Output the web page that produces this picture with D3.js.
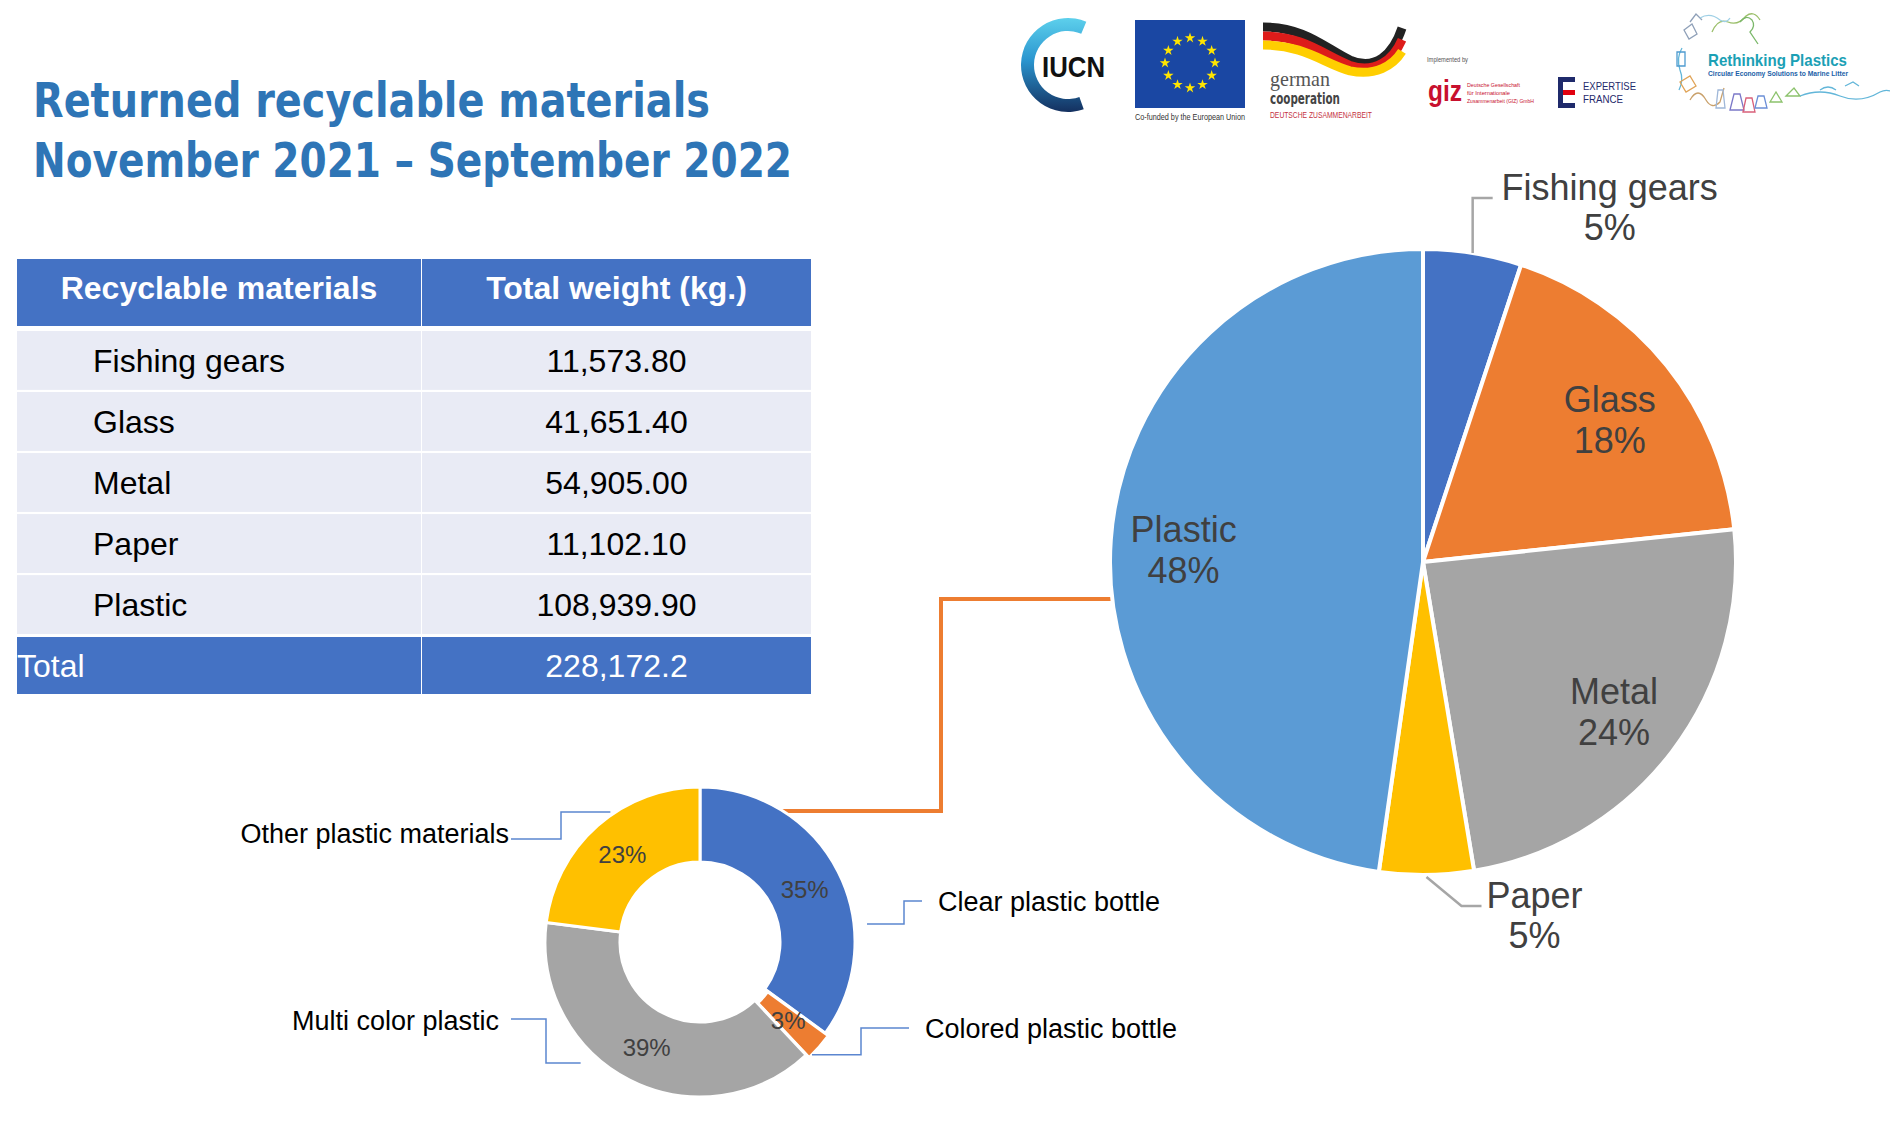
<!DOCTYPE html>
<html>
<head>
<meta charset="utf-8">
<script src="https://cdn.jsdelivr.net/npm/d3@7"></script>
<style>
  body { margin: 0; background: #fff; }
  svg { display: block; }
</style>
</head>
<body>
<svg id="chart" width="1890" height="1138"></svg>
<script>
// ---- data ----
var materials = ["Fishing gears", "Glass", "Metal", "Paper", "Plastic"];
var weights = [11573.80, 41651.40, 54905.00, 11102.10, 108939.90];
var totalWeight = 228172.2;
var tableHeaders = ["Recyclable materials", "Total weight (kg.)"];
var plasticTypes = ["Clear plastic bottle", "Colored plastic bottle", "Multi color plastic", "Other plastic materials"];
var plasticShares = [35, 3, 39, 23];
var titleLines = ["Returned recyclable materials", "November 2021 \u2013 September 2022"];

var pieColors = ["#4472C4", "#ED7D31", "#A5A5A5", "#FFC000", "#5B9BD5"];
var donutColors = ["#4472C4", "#ED7D31", "#A5A5A5", "#FFC000"];

var svg = d3.select("#chart");
svg.append("rect").attr("width", 1890).attr("height", 1138).attr("fill", "#fff");

// ---- title ----
var titleWidths = [677, 759];
svg.selectAll(".title")
    .data(titleLines)
    .enter().append("text")
    .attr("class", "title")
    .attr("x", 33)
    .attr("y", function (d, i) { return 117 + i * 60; })
    .attr("textLength", function (d, i) { return titleWidths[i]; })
    .attr("lengthAdjust", "spacingAndGlyphs")
    .style("font-family", "'DejaVu Sans Condensed', 'DejaVu Sans', sans-serif")
    .style("font-stretch", "condensed")
    .style("font-weight", "bold")
    .style("font-size", "48px")
    .style("fill", "#2E75B6")
    .text(function (d) { return d; });

// ---- table ----
var fmt = d3.format(",.2f");
var colX = d3.scaleOrdinal().domain([0, 1]).range([17, 422]);
var colW = [404, 389];
var rowY = d3.scaleBand().domain(materials).range([331, 634]).paddingInner(0.035);
var tFont = "'Liberation Sans', Arial, sans-serif";

var table = svg.append("g");
// header
table.selectAll(".hcell")
    .data(tableHeaders)
    .enter().append("rect")
    .attr("x", function (d, i) { return colX(i); })
    .attr("y", 259)
    .attr("width", function (d, i) { return colW[i]; })
    .attr("height", 67)
    .attr("fill", "#4472C4");
table.selectAll(".htext")
    .data(tableHeaders)
    .enter().append("text")
    .attr("x", function (d, i) { return colX(i) + colW[i] / 2; })
    .attr("y", 299)
    .attr("text-anchor", "middle")
    .style("font-family", tFont)
    .style("font-weight", "bold")
    .style("font-size", "32px")
    .style("fill", "#fff")
    .text(function (d) { return d; });

// body rows
var rows = table.selectAll(".row")
    .data(materials)
    .enter().append("g")
    .attr("class", "row")
    .attr("transform", function (d) { return "translate(0," + rowY(d) + ")"; });
[0, 1].forEach(function (c) {
    rows.append("rect")
        .attr("x", colX(c))
        .attr("width", colW[c])
        .attr("height", rowY.bandwidth())
        .attr("fill", "#E9EBF5");
});
rows.append("text")
    .attr("x", 93)
    .attr("y", rowY.bandwidth() / 2 + 11.5)
    .style("font-family", tFont)
    .style("font-size", "32px")
    .style("fill", "#000")
    .text(function (d) { return d; });
rows.append("text")
    .attr("x", colX(1) + colW[1] / 2)
    .attr("y", rowY.bandwidth() / 2 + 11.5)
    .attr("text-anchor", "middle")
    .style("font-family", tFont)
    .style("font-size", "32px")
    .style("fill", "#000")
    .text(function (d, i) { return fmt(weights[i]); });

// total row
[0, 1].forEach(function (c) {
    table.append("rect")
        .attr("x", colX(c)).attr("y", 637)
        .attr("width", colW[c]).attr("height", 57)
        .attr("fill", "#4472C4");
});
table.append("text")
    .attr("x", 17).attr("y", 677)
    .style("font-family", tFont).style("font-size", "32px").style("fill", "#fff")
    .text("Total");
table.append("text")
    .attr("x", colX(1) + colW[1] / 2).attr("y", 677)
    .attr("text-anchor", "middle")
    .style("font-family", tFont).style("font-size", "32px").style("fill", "#fff")
    .text(d3.format(",.1f")(totalWeight));

// ---- big pie ----
var pcx = 1423, pcy = 562, pR = 313;
var pie = d3.pie().sort(null).value(function (d) { return d; });
var pieArcs = pie(weights);
var arc = d3.arc().innerRadius(0).outerRadius(pR);
var labelArc = d3.arc().innerRadius(240).outerRadius(240);
var pct = d3.format(".0%");

// orange connector between the plastic slice and the donut (drawn first, under the slices)
var dcx = 700, dcy = 942, dR = 155, dr = 80;
var connY1 = 599, connY2 = 811, connX = 941;
var pEdgeX = pcx - Math.sqrt(pR * pR - (connY1 - pcy) * (connY1 - pcy));
var dEdgeX = dcx + Math.sqrt(dR * dR - (connY2 - dcy) * (connY2 - dcy));
svg.append("path")
    .attr("d", d3.line()([[pEdgeX + 4, connY1], [connX, connY1], [connX, connY2], [dEdgeX - 4, connY2]]))
    .attr("fill", "none")
    .attr("stroke", "#ED7D31")
    .attr("stroke-width", 4);

var pieG = svg.append("g").attr("transform", "translate(" + pcx + "," + pcy + ")");
pieG.selectAll(".slice")
    .data(pieArcs)
    .enter().append("path")
    .attr("d", arc)
    .attr("fill", function (d, i) { return pieColors[i]; })
    .attr("stroke", "#fff")
    .attr("stroke-width", 4)
    .attr("stroke-linejoin", "round");

var labelFont = "'Liberation Sans', Arial, sans-serif";
var insideIdx = [1, 2, 4];
var insideShift = { 1: 8, 2: 4, 4: 4 };
insideIdx.forEach(function (i) {
    var c = labelArc.centroid(pieArcs[i]);
    var t = pieG.append("text")
        .attr("text-anchor", "middle")
        .style("font-family", labelFont).style("font-size", "36px").style("fill", "#404040");
    t.append("tspan").attr("x", c[0]).attr("y", c[1] - 7 + insideShift[i]).text(materials[i]);
    t.append("tspan").attr("x", c[0]).attr("y", c[1] + 34 + insideShift[i]).text(pct(weights[i] / totalWeight));
});

function outerPoint(a) {
    var ang = (a.startAngle + a.endAngle) / 2;
    return [pR * Math.sin(ang), -pR * Math.cos(ang)];
}
// Fishing gears: leader up, then right
var fp = outerPoint(pieArcs[0]);
var fElbow = [fp[0], 198 - pcy];
var fEnd = [fp[0] + 20, 198 - pcy];
pieG.append("path")
    .attr("d", d3.line()([fp, fElbow, fEnd]))
    .attr("fill", "none").attr("stroke", "#A6A6A6").attr("stroke-width", 2.5);
var ft = pieG.append("text").attr("text-anchor", "middle")
    .style("font-family", labelFont).style("font-size", "36px").style("fill", "#404040");
ft.append("tspan").attr("x", fEnd[0] + 117).attr("y", 200 - pcy).text(materials[0]);
ft.append("tspan").attr("x", fEnd[0] + 117).attr("y", 240 - pcy).text(pct(weights[0] / totalWeight));

// Paper: leader diagonal, then right
var pp = outerPoint(pieArcs[3]);
var pElbow = [pp[0] + 35, 906 - pcy];
var pEnd = [pp[0] + 55, 906 - pcy];
pieG.append("path")
    .attr("d", d3.line()([[pp[0], pp[1] + 2], pElbow, pEnd]))
    .attr("fill", "none").attr("stroke", "#A6A6A6").attr("stroke-width", 2.5);
var pt = pieG.append("text").attr("text-anchor", "middle")
    .style("font-family", labelFont).style("font-size", "36px").style("fill", "#404040");
pt.append("tspan").attr("x", pEnd[0] + 53).attr("y", 908 - pcy).text(materials[3]);
pt.append("tspan").attr("x", pEnd[0] + 53).attr("y", 948 - pcy).text(pct(weights[3] / totalWeight));

// ---- donut ----
var donutG = svg.append("g").attr("transform", "translate(" + dcx + "," + dcy + ")");
var donutArcs = pie(plasticShares);
var dArc = d3.arc().innerRadius(dr).outerRadius(dR);
donutG.selectAll(".dslice")
    .data(donutArcs)
    .enter().append("path")
    .attr("d", dArc)
    .attr("transform", function (d, i) {
        if (i !== 1) return null;
        var a = (d.startAngle + d.endAngle) / 2;
        return "translate(" + 4 * Math.sin(a) + "," + -4 * Math.cos(a) + ")";
    })
    .attr("fill", function (d, i) { return donutColors[i]; })
    .attr("stroke", "#fff")
    .attr("stroke-width", 3);
donutG.selectAll(".dpct")
    .data(donutArcs)
    .enter().append("text")
    .attr("x", function (d) { return dArc.centroid(d)[0]; })
    .attr("y", function (d) { return dArc.centroid(d)[1] + 9; })
    .attr("text-anchor", "middle")
    .style("font-family", labelFont).style("font-size", "24px").style("fill", "#404040")
    .text(function (d) { return d.data + "%"; });

// label layout for the donut callouts (angle/radius of the start, elbow x, text anchor)
var donutLabelLayout = [
    { angle: 1.463, r: 168, elbowX: 904, endY: 901, endX: 922, textX: 938, textY: 901, anchor: "start" },
    { angle: 2.360, r: 159, elbowX: 861, endY: 1028, endX: 909, textX: 925, textY: 1028, anchor: "start" },
    { angle: 3.920, r: 170, elbowX: 546, endY: 1019, endX: 511, textX: 499, textY: 1020, anchor: "end" },
    { angle: 5.680, r: 158, elbowX: 561, endY: 839, endX: 511, textX: 509, textY: 833, anchor: "end" }
];
donutLabelLayout.forEach(function (L, i) {
    var sx = dcx + L.r * Math.sin(L.angle), sy = dcy - L.r * Math.cos(L.angle);
    svg.append("path")
        .attr("d", d3.line()([[sx, sy], [L.elbowX, sy], [L.elbowX, L.endY], [L.endX, L.endY]]))
        .attr("fill", "none").attr("stroke", "#5B86D0").attr("stroke-width", 1.5);
    svg.append("text")
        .attr("x", L.textX)
        .attr("y", L.textY + 9.5)
        .attr("text-anchor", L.anchor)
        .style("font-family", labelFont).style("font-size", "27px").style("fill", "#000")
        .text(plasticTypes[i]);
});

// ---- logos ----
var logos = svg.append("g");
var defs = svg.append("defs");
var g1 = defs.append("linearGradient").attr("id", "iucnGrad").attr("x1", 0).attr("y1", 0).attr("x2", 0).attr("y2", 1);
g1.append("stop").attr("offset", "0%").attr("stop-color", "#5DD0EC");
g1.append("stop").attr("offset", "45%").attr("stop-color", "#2A95CF");
g1.append("stop").attr("offset", "100%").attr("stop-color", "#14305F");
logos.append("path")
    .attr("transform", "translate(1068,65)")
    .attr("d", d3.arc().innerRadius(34).outerRadius(47).startAngle(2.80).endAngle(2 * Math.PI + 0.40)())
    .attr("fill", "url(#iucnGrad)");
logos.append("text").attr("x", 1042).attr("y", 77)
    .attr("textLength", 63).attr("lengthAdjust", "spacingAndGlyphs")
    .style("font-family", tFont).style("font-weight", "bold").style("font-size", "30px").style("fill", "#111")
    .text("IUCN");

// EU flag
logos.append("rect").attr("x", 1135).attr("y", 20).attr("width", 110).attr("height", 88).attr("fill", "#1A47A3");
var star = d3.symbol().type(d3.symbolStar).size(34);
d3.range(12).forEach(function (k) {
    var a = k * Math.PI / 6;
    logos.append("path").attr("d", star())
        .attr("transform", "translate(" + (1190 + 25 * Math.sin(a)) + "," + (63 - 25 * Math.cos(a)) + ")")
        .attr("fill", "#FFE500");
});
logos.append("text").attr("x", 1135).attr("y", 120)
    .attr("textLength", 110).attr("lengthAdjust", "spacingAndGlyphs")
    .style("font-family", tFont).style("font-size", "9px").style("fill", "#333")
    .text("Co-funded by the European Union");

// German cooperation ribbon
["#222222", "#DD1C1A", "#FFCE00"].forEach(function (col, k) {
    var o = k * 9;
    logos.append("path")
        .attr("d", "M1263," + (27 + o) + " C1305," + (27 + o) + " 1325," + (48 + o * 0.9) + " 1350," + (60 + o * 0.6) +
            " C1375," + (71 + o * 0.3) + " 1393," + (55 + o * 0.6) + " 1402," + (28 + o * 1.3))
        .attr("fill", "none").attr("stroke", col).attr("stroke-width", 9);
});
logos.append("text").attr("x", 1270).attr("y", 86)
    .attr("textLength", 60).attr("lengthAdjust", "spacingAndGlyphs")
    .style("font-family", "'Liberation Serif', serif").style("font-size", "22px").style("fill", "#555")
    .text("german");
logos.append("text").attr("x", 1270).attr("y", 104)
    .attr("textLength", 70).attr("lengthAdjust", "spacingAndGlyphs")
    .style("font-family", "'DejaVu Sans', sans-serif").style("font-weight", "bold").style("font-size", "15px").style("fill", "#444")
    .text("cooperation");
logos.append("text").attr("x", 1270).attr("y", 118)
    .attr("textLength", 102).attr("lengthAdjust", "spacingAndGlyphs")
    .style("font-family", tFont).style("font-size", "9px").style("fill", "#C4323F")
    .text("DEUTSCHE ZUSAMMENARBEIT");

// giz
logos.append("text").attr("x", 1427).attr("y", 62)
    .attr("textLength", 41).attr("lengthAdjust", "spacingAndGlyphs")
    .style("font-family", tFont).style("font-size", "7px").style("fill", "#555")
    .text("Implemented by");
logos.append("text").attr("x", 1428).attr("y", 101)
    .attr("textLength", 34).attr("lengthAdjust", "spacingAndGlyphs")
    .style("font-family", tFont).style("font-weight", "bold").style("font-size", "30px").style("fill", "#C8102E")
    .text("giz");
[["Deutsche Gesellschaft", 53], ["f\u00fcr Internationale", 43], ["Zusammenarbeit (GIZ) GmbH", 67]].forEach(function (l, k) {
    logos.append("text").attr("x", 1467).attr("y", 87 + k * 8)
        .attr("textLength", l[1]).attr("lengthAdjust", "spacingAndGlyphs")
        .style("font-family", tFont).style("font-size", "6px").style("fill", "#C8102E")
        .text(l[0]);
});

// Expertise France
logos.append("rect").attr("x", 1558).attr("y", 77).attr("width", 5).attr("height", 31).attr("fill", "#1F2A6B");
logos.append("rect").attr("x", 1558).attr("y", 77).attr("width", 17).attr("height", 5).attr("fill", "#1F2A6B");
logos.append("rect").attr("x", 1563).attr("y", 90).attr("width", 12).attr("height", 5).attr("fill", "#E1000F");
logos.append("rect").attr("x", 1563).attr("y", 103).attr("width", 12).attr("height", 5).attr("fill", "#1F2A6B");
logos.append("text").attr("x", 1583).attr("y", 90)
    .attr("textLength", 53).attr("lengthAdjust", "spacingAndGlyphs")
    .style("font-family", tFont).style("font-size", "11px").style("fill", "#1F2A6B")
    .text("EXPERTISE");
logos.append("text").attr("x", 1583).attr("y", 103)
    .attr("textLength", 40).attr("lengthAdjust", "spacingAndGlyphs")
    .style("font-family", tFont).style("font-size", "11px").style("fill", "#1F2A6B")
    .text("FRANCE");

// Rethinking Plastics
var doodle = [
    ["#9BBF6A", "M1712,32 q6,-14 16,-10 q10,4 18,-6 q8,-6 14,4"],
    ["#8FA0B8", "M1684,30 l8,-6 l5,10 l-8,5 z M1690,22 l6,-8 l6,6"],
    ["#7BB86A", "M1740,22 q6,-8 12,-2 q4,6 -2,12 l8,12"],
    ["#62B6D9", "M1682,48 q-6,10 -2,22 q4,10 -1,20"],
    ["#4E9BD0", "M1677,52 l8,0 l0,14 l-8,0 z"],
    ["#E0A458", "M1680,82 l10,-6 l6,10 l-10,6 z"],
    ["#C9A06A", "M1690,100 q8,-14 16,0 q6,10 14,2 l4,-14"],
    ["#9FB7D8", "M1716,108 l2,-18 l5,0 l2,18 z"],
    ["#7B78C8", "M1730,110 l4,-16 l6,0 l4,16 z"],
    ["#D9607A", "M1743,112 l3,-14 l6,0 l3,14 z"],
    ["#6B8FD6", "M1755,108 l3,-12 l6,0 l3,12 z"],
    ["#8CC26C", "M1770,102 l6,-10 l6,10 z M1786,96 l8,-8 l6,8 z"],
    ["#62B6D9", "M1800,96 q20,-8 40,0 q20,8 40,-4 q8,-4 16,2"],
    ["#62B6D9", "M1820,90 q8,-6 16,0 M1845,86 l8,-4 l6,4"],
    ["#9FD0E6", "M1700,18 q10,-6 20,2 q6,4 10,-2"]
];
doodle.forEach(function (d) {
    logos.append("path").attr("d", d[1]).attr("fill", "none").attr("stroke", d[0]).attr("stroke-width", 1.3);
});
logos.append("text").attr("x", 1708).attr("y", 66)
    .attr("textLength", 139).attr("lengthAdjust", "spacingAndGlyphs")
    .style("font-family", tFont).style("font-weight", "bold").style("font-size", "17px").style("fill", "#1BA0B5")
    .text("Rethinking Plastics");
logos.append("text").attr("x", 1708).attr("y", 76)
    .attr("textLength", 140).attr("lengthAdjust", "spacingAndGlyphs")
    .style("font-family", tFont).style("font-weight", "bold").style("font-size", "6.5px").style("fill", "#2161A8")
    .text("Circular Economy Solutions to Marine Litter");
</script>
</body>
</html>
